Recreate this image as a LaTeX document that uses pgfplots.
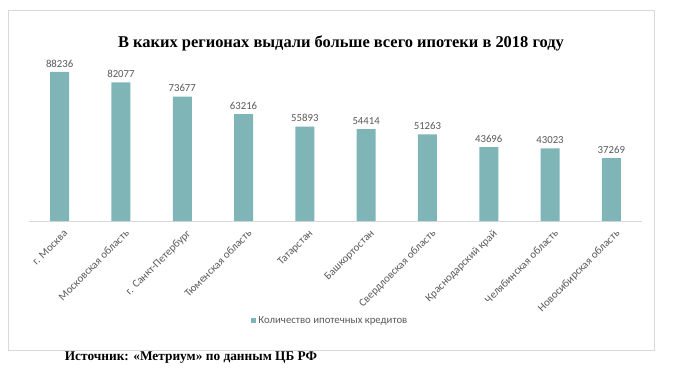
\documentclass[border=0pt]{standalone}
\usepackage{fontspec}
\setmainfont{Liberation Serif}
\newfontfamily\carlito{Carlito}
\usepackage{pgfplots}
\pgfplotsset{compat=1.18}
\definecolor{barcol}{RGB}{128,181,184}
\definecolor{txtgray}{RGB}{89,89,89}
\definecolor{linegray}{RGB}{217,217,217}
\begin{document}
\begin{tikzpicture}[x=1bp,y=1bp]
\useasboundingbox (0,0) rectangle (677,372);
\draw[linegray, line width=0.8bp] (8,22) rectangle (654,362);
\begin{axis}[
  at={(29bp,151bp)}, anchor=south west,
  scale only axis, width=613bp, height=168.9bp,
  ybar, bar width=19bp,
  xmin=-0.5, xmax=9.5, ymin=0, ymax=100000,
  axis x line=bottom, axis line style={linegray, line width=0.8bp, -},
  hide y axis,
  major tick length=0pt,
  xtick=data,
  xticklabels={г. Москва, Московская область, г. Санкт-Петербург, Тюменская область, Татарстан, Башкортостан, Свердловская область, Краснодарский край, Челябинская область, Новосибирская область},
  xticklabel style={rotate=45, anchor=north east, font=\carlito\fontsize{11}{12}\selectfont, text=txtgray, inner sep=1bp, xshift=-2bp, yshift=-7bp},
  nodes near coords,
  nodes near coords style={font=\carlito\fontsize{10.8}{12}\selectfont, text=txtgray, /pgf/number format/1000 sep={}, /pgf/number format/assume math mode=true, yshift=1bp},
  legend style={at={(0.4913,-0.592)}, anchor=center, draw=none, fill=none, font=\carlito\fontsize{10.8}{12}\selectfont, text=txtgray, inner sep=0pt},
  legend image code/.code={\fill[barcol] (0bp,-2.5bp) rectangle (5.5bp,3bp);},
  clip=false,
]
\addplot[fill=barcol, draw=none] coordinates {
(0,88236) (1,82077) (2,73677) (3,63216) (4,55893) (5,54414) (6,51263) (7,43696) (8,43023) (9,37269)};
\addlegendentry{Количество ипотечных кредитов}
\end{axis}
\node[font=\bfseries\fontsize{16.5}{19}\selectfont] at (341,329) {В каких регионах выдали больше всего ипотеки в 2018 году};
\node[font=\bfseries\fontsize{13.4}{15}\selectfont] at (191,14) {Источник: «Метриум» по данным ЦБ РФ};
\end{tikzpicture}
\end{document}
